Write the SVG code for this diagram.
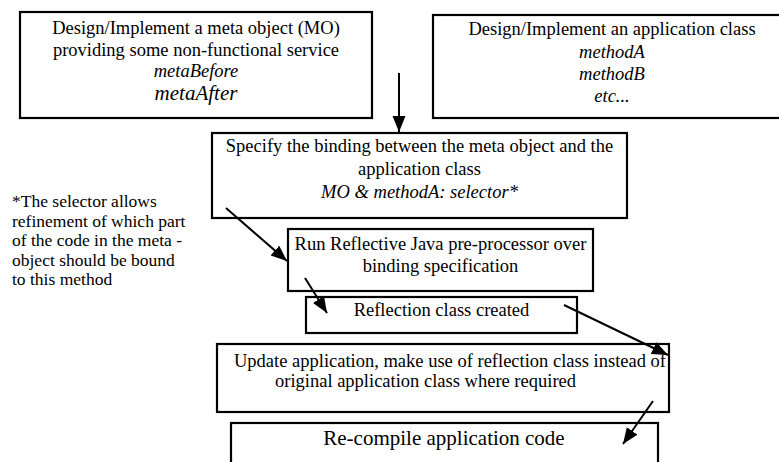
<svg xmlns="http://www.w3.org/2000/svg" width="779" height="462" viewBox="0 0 779 462">
<style>
.box{fill:#fff;stroke:#000;stroke-width:2.2}
text{font-family:"Liberation Serif","Times New Roman",serif;font-size:18.5px;fill:#000;text-anchor:middle}
.it{font-style:italic}
.note{text-anchor:start;font-size:17.5px}
.conn{stroke:#000;stroke-width:2;fill:none;marker-end:url(#ah)}
</style>
<defs>
<marker id="ah" markerUnits="userSpaceOnUse" markerWidth="18" markerHeight="14" refX="16" refY="6.5" orient="auto">
<path d="M0,0 L16,6.5 L0,13 z" fill="#000"/>
</marker>
</defs>
<rect width="779" height="462" fill="#fff"/>
<g id="n1">
<rect class="box" x="20" y="12" width="352" height="106"/>
<text x="196" y="34">Design/Implement a meta object (MO)</text>
<text x="196" y="56">providing some non-functional service</text>
<text x="196" y="77" class="it">metaBefore</text>
<text x="196" y="100" class="it" style="font-size:21px">metaAfter</text>
</g>
<g id="n2">
<rect class="box" x="433" y="15" width="360" height="103"/>
<text x="612" y="35">Design/Implement an application class</text>
<text x="612" y="58" class="it">methodA</text>
<text x="612" y="80" class="it">methodB</text>
<text x="612" y="102" class="it">etc...</text>
</g>
<g id="n3">
<rect class="box" x="212" y="133" width="415" height="85"/>
<text x="419.5" y="152">Specify the binding between the meta object and the</text>
<text x="419.5" y="175">application class</text>
<text x="419.5" y="198" class="it">MO &amp; methodA: selector*</text>
</g>
<g id="note">
<text class="note" x="12" y="207">*The selector allows</text>
<text class="note" x="12" y="226.5">refinement of which part</text>
<text class="note" x="12" y="246">of the code in the meta -</text>
<text class="note" x="12" y="265.5">object should be bound</text>
<text class="note" x="12" y="285">to this method</text>
</g>
<g id="n4">
<rect class="box" x="288" y="229" width="305" height="62"/>
<text x="440.5" y="250">Run Reflective Java pre-processor over</text>
<text x="440.5" y="272">binding specification</text>
</g>
<g id="n5">
<rect class="box" x="306" y="297" width="271" height="36"/>
<text x="441.5" y="316">Reflection class created</text>
</g>
<g id="n6">
<rect class="box" x="217" y="344" width="452" height="68"/>
<text x="450" y="367">Update application, make use of reflection class instead of</text>
<text x="425.5" y="387">original application class where required</text>
</g>
<g id="n7">
<rect class="box" x="231" y="423" width="427" height="50"/>
<text x="444" y="445" style="font-size:21px">Re-compile application code</text>
</g>
<g id="connectors">
<line class="conn" x1="399" y1="73" x2="399" y2="132"/>
<line class="conn" x1="226" y1="208" x2="287" y2="261"/>
<line class="conn" x1="305" y1="278" x2="327" y2="313"/>
<line class="conn" x1="564" y1="305" x2="668" y2="355"/>
<line class="conn" x1="653" y1="401" x2="623" y2="444"/>
</g>
</svg>
